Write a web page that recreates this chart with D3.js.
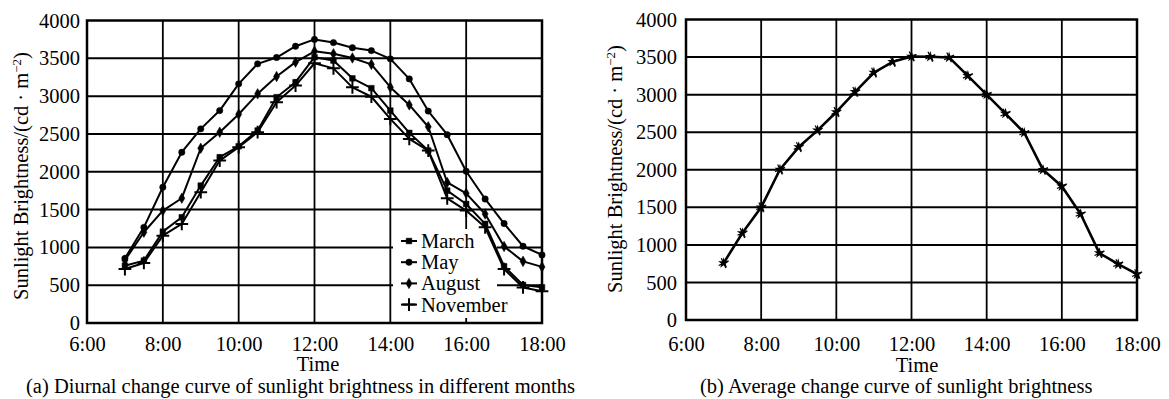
<!DOCTYPE html>
<html>
<head>
<meta charset="utf-8">
<script src="https://cdn.jsdelivr.net/npm/d3@7"></script>
<style>
  html, body { margin: 0; padding: 0; background: #fff; }
  svg { display: block; }
  text { font-family: "Liberation Serif", "Times New Roman", serif; fill: #000; }
</style>
</head>
<body>
<svg id="chart" width="1169" height="399"></svg>
<script>
// Sampling times (hours), every half hour from 7:00 to 18:00
const hours = [7, 7.5, 8, 8.5, 9, 9.5, 10, 10.5, 11, 11.5, 12, 12.5, 13, 13.5, 14, 14.5, 15, 15.5, 16, 16.5, 17, 17.5, 18];

// Sunlight brightness, cd·m^-2
const march    = [758, 825, 1208, 1398, 1817, 2192, 2337, 2545, 2986, 3184, 3515, 3470, 3235, 3105, 2809, 2514, 2280, 1751, 1574, 1310, 750, 503, 472];
const may      = [855, 1265, 1795, 2258, 2567, 2809, 3162, 3427, 3510, 3660, 3750, 3708, 3640, 3602, 3493, 3228, 2802, 2490, 2007, 1640, 1315, 1015, 900];
const august   = [830, 1200, 1486, 1650, 2311, 2523, 2760, 3030, 3259, 3449, 3593, 3560, 3505, 3420, 3118, 2884, 2595, 1858, 1715, 1442, 1012, 815, 742];
const november = [714, 794, 1155, 1310, 1729, 2148, 2324, 2523, 2920, 3140, 3435, 3367, 3116, 2992, 2699, 2434, 2280, 1649, 1486, 1266, 714, 470, 420];
const average  = [757, 1158, 1500, 2003, 2302, 2524, 2769, 3036, 3294, 3437, 3508, 3504, 3495, 3250, 3000, 2747, 2493, 1999, 1781, 1411, 890, 743, 610];

const monthNames = ["March", "May", "August", "November"];
const monthSymbols = [d3.symbolSquare, d3.symbolCircle, d3.symbolDiamond, d3.symbolPlus];

const xTickValues = [6, 8, 10, 12, 14, 16, 18];
const xTickLabels = ["6:00", "8:00", "10:00", "12:00", "14:00", "16:00", "18:00"];
const yTickValues = [0, 500, 1000, 1500, 2000, 2500, 3000, 3500, 4000];

const svg = d3.select("#chart");
const FS = 20.5;

function drawPanel(opt) {
  const g = svg.append("g");
  const x = d3.scaleLinear().domain([6, 18]).range([opt.left, opt.right]);
  const y = d3.scaleLinear().domain([0, 4000]).range([opt.bottom, opt.top]);

  // grid
  g.append("g").selectAll("line").data(yTickValues.slice(1, -1)).join("line")
    .attr("x1", opt.left).attr("x2", opt.right)
    .attr("y1", d => y(d)).attr("y2", d => y(d))
    .attr("stroke", "#000").attr("stroke-width", 2);
  g.append("g").selectAll("line").data(xTickValues.slice(1, -1)).join("line")
    .attr("y1", opt.top).attr("y2", opt.bottom)
    .attr("x1", d => x(d)).attr("x2", d => x(d))
    .attr("stroke", "#000").attr("stroke-width", 1.8);

  // y axis labels
  const yAxis = g.append("g").attr("transform", `translate(${opt.left},0)`)
    .call(d3.axisLeft(y).tickValues(yTickValues).tickFormat(d3.format("d"))
      .tickSize(0).tickPadding(opt.yPad));
  yAxis.select(".domain").remove();
  yAxis.selectAll("text").style("font-size", FS + "px").attr("font-family", null);

  // x axis labels
  const xAxis = g.append("g").attr("transform", `translate(0,${opt.bottom})`)
    .call(d3.axisBottom(x).tickValues(xTickValues).tickFormat((d, i) => xTickLabels[i])
      .tickSize(0).tickPadding(opt.labelBase - opt.bottom - 0.71 * FS));
  xAxis.select(".domain").remove();
  xAxis.selectAll("text").style("font-size", FS + "px").attr("font-family", null);

  // axis titles
  g.append("text").attr("x", opt.timeX).attr("y", opt.timeY)
    .attr("text-anchor", "middle").style("font-size", FS + "px").text("Time");

  const yt = g.append("text")
    .attr("transform", `translate(${opt.ytX},${opt.ytY}) rotate(-90)`)
    .attr("text-anchor", "middle").style("font-size", FS + "px");
  yt.append("tspan").text("Sunlight Brightness/(cd · m");
  yt.append("tspan").attr("dy", -7).style("font-size", "13px").text("−2");
  yt.append("tspan").attr("dy", 7).text(")");

  // caption
  g.append("text").attr("x", opt.capX).attr("y", 393)
    .style("font-size", FS + "px").text(opt.caption);

  return { g, x, y };
}

// ---- panel (a)
const pa = drawPanel({
  left: 87, right: 542, top: 20.5, bottom: 323, yPad: 7, labelBase: 350.5,
  timeX: 318, timeY: 371, ytX: 28, ytY: 176, capX: 26,
  caption: "(a) Diurnal change curve of sunlight brightness in different months"
});

// legend background hides the grid behind it
pa.g.append("rect").attr("x", 393).attr("y", 229).attr("width", 104).attr("height", 89).attr("fill", "#fff");

// frame drawn after legend background
pa.g.append("rect").attr("x", 87).attr("y", 20.5).attr("width", 455).attr("height", 302.5)
  .attr("fill", "none").attr("stroke", "#000").attr("stroke-width", 2.5);

const monthSeries = [march, may, august, november];
const lineA = d3.line().x((d, i) => pa.x(hours[i])).y(d => pa.y(d));
monthSeries.forEach((s, k) => {
  pa.g.append("path").datum(s).attr("d", lineA)
    .attr("fill", "none").attr("stroke", "#000").attr("stroke-width", 2).attr("stroke-linejoin", "round");
  const sym = d3.symbol().type(monthSymbols[k]).size(k === 3 ? 55 : 32);
  pa.g.append("g").selectAll("path").data(s).join("path")
    .attr("transform", (d, i) => `translate(${pa.x(hours[i])},${pa.y(d)})`)
    .attr("d", sym)
    .attr("fill", k === 3 ? "none" : "#000")
    .attr("stroke", "#000").attr("stroke-width", k === 3 ? 2 : 0.5);
});

// legend
const leg = pa.g.append("g");
monthNames.forEach((name, k) => {
  const base = 248 + k * 21.2;
  const cy = base - 7;
  leg.append("line").attr("x1", 401).attr("x2", 417).attr("y1", cy).attr("y2", cy)
    .attr("stroke", "#000").attr("stroke-width", 2);
  leg.append("path").attr("transform", `translate(409,${cy})`)
    .attr("d", d3.symbol().type(monthSymbols[k]).size(k === 3 ? 55 : 32))
    .attr("fill", k === 3 ? "none" : "#000").attr("stroke", "#000").attr("stroke-width", k === 3 ? 2 : 0.5);
  leg.append("text").attr("x", 421).attr("y", base).style("font-size", FS + "px").text(name);
});

// ---- panel (b)
const pb = drawPanel({
  left: 686, right: 1137, top: 19.5, bottom: 320, yPad: 9, labelBase: 350.5,
  timeX: 917, timeY: 372, ytX: 622, ytY: 169, capX: 700,
  caption: "(b) Average change curve of sunlight brightness"
});
pb.g.append("rect").attr("x", 686).attr("y", 19.5).attr("width", 451).attr("height", 300.5)
  .attr("fill", "none").attr("stroke", "#000").attr("stroke-width", 2.5);

const lineB = d3.line().x((d, i) => pb.x(hours[i])).y(d => pb.y(d));
pb.g.append("path").datum(average).attr("d", lineB)
  .attr("fill", "none").attr("stroke", "#000").attr("stroke-width", 2.6).attr("stroke-linejoin", "round");
pb.g.append("g").selectAll("path").data(average).join("path")
  .attr("transform", (d, i) => `translate(${pb.x(hours[i])},${pb.y(d)})`)
  .attr("d", d3.symbol().type(d3.symbolStar).size(38))
  .attr("fill", "#000");
pb.g.append("g").selectAll("path").data(average).join("path")
  .attr("transform", (d, i) => `translate(${pb.x(hours[i])},${pb.y(d)}) rotate(20)`)
  .attr("d", d3.symbol().type(d3.symbolTimes).size(40))
  .attr("fill", "none").attr("stroke", "#000").attr("stroke-width", 1.2);
</script>
</body>
</html>
